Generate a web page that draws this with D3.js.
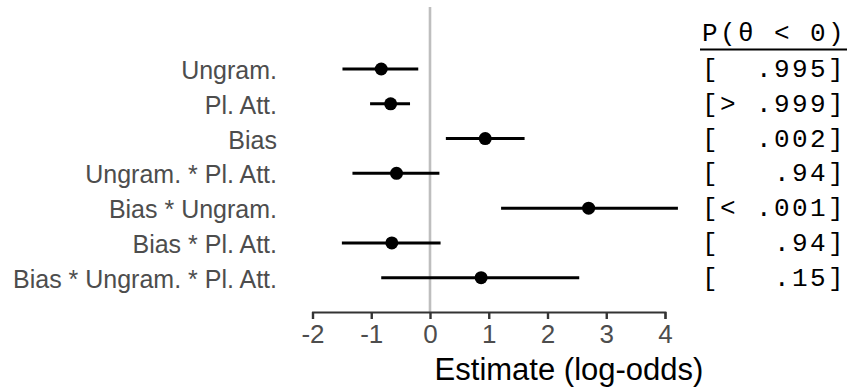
<!DOCTYPE html>
<html>
<head>
<meta charset="utf-8">
<script src="https://cdn.jsdelivr.net/npm/d3@7"></script>
<style>
  body { margin: 0; background: #fff; }
  svg { display: block; }
</style>
</head>
<body>
<svg id="chart"></svg>
<script>
// model terms, top to bottom
var terms = ["Ungram.", "Pl. Att.", "Bias", "Ungram. * Pl. Att.",
  "Bias * Ungram.", "Bias * Pl. Att.", "Bias * Ungram. * Pl. Att."];
var estimates = [-0.83, -0.67, 0.94, -0.57, 2.70, -0.65, 0.87];
var lower = [-1.49, -1.02, 0.27, -1.32, 1.21, -1.50, -0.83];
var upper = [-0.20, -0.34, 1.61, 0.16, 4.22, 0.18, 2.54];
var probs = ["[  .995]", "[> .999]", "[  .002]", "[   .94]", "[< .001]", "[   .94]", "[   .15]"];
var xTicks = [-2, -1, 0, 1, 2, 3, 4];

var width = 863, height = 388;

var svg = d3.select("#chart")
  .attr("width", width)
  .attr("height", height);

var x = d3.scaleLinear().domain([-2, 4]).range([312.5, 665]);
var y = d3.scalePoint().domain(terms).range([69, 277.7]);

// zero reference line
svg.append("line")
  .attr("x1", x(0)).attr("x2", x(0))
  .attr("y1", 7).attr("y2", 312)
  .attr("stroke", "#bebebe")
  .attr("stroke-width", 2.6);

// x axis
var xAxis = svg.append("g")
  .attr("transform", "translate(0,312)")
  .call(d3.axisBottom(x).tickValues(xTicks).tickSizeOuter(0).tickSize(7).tickPadding(6)
    .tickFormat(d3.format("d")));
xAxis.select(".domain").attr("stroke", "#333").attr("stroke-width", 1.8);
xAxis.selectAll(".tick line").attr("stroke", "#333").attr("stroke-width", 2.4);
xAxis.selectAll(".tick text")
  .attr("fill", "#4d4d4d")
  .style("font-family", "Liberation Sans, Arial, sans-serif")
  .style("font-size", "26px")
  .text(function (d) { return d < 0 ? "-" + Math.abs(d) : d; });

svg.append("text")
  .attr("x", 569)
  .attr("y", 380)
  .attr("text-anchor", "middle")
  .attr("fill", "#000")
  .style("font-family", "Liberation Sans, Arial, sans-serif")
  .style("font-size", "31px")
  .text("Estimate (log-odds)");

// term labels
svg.selectAll(".term")
  .data(terms)
  .enter()
  .append("text")
  .attr("class", "term")
  .attr("x", 277)
  .attr("y", function (d) { return y(d) + 10; })
  .attr("text-anchor", "end")
  .attr("fill", "#4d4d4d")
  .style("font-family", "Liberation Sans, Arial, sans-serif")
  .style("font-size", "25px")
  .text(function (d) { return d; });

// intervals
svg.selectAll(".ci")
  .data(terms)
  .enter()
  .append("line")
  .attr("class", "ci")
  .attr("x1", function (d, i) { return x(lower[i]); })
  .attr("x2", function (d, i) { return x(upper[i]); })
  .attr("y1", function (d) { return y(d); })
  .attr("y2", function (d) { return y(d); })
  .attr("stroke", "#000")
  .attr("stroke-width", 3);

// point estimates
svg.selectAll(".est")
  .data(terms)
  .enter()
  .append("circle")
  .attr("class", "est")
  .attr("cx", function (d, i) { return x(estimates[i]); })
  .attr("cy", function (d) { return y(d); })
  .attr("r", 6.5)
  .attr("fill", "#000");

// probability column
var mono = "Liberation Mono, Courier New, monospace";
svg.append("text")
  .attr("x", 702)
  .attr("y", 41)
  .attr("fill", "#000")
  .attr("xml:space", "preserve")
  .style("font-family", mono)
  .style("font-size", "26px")
  .style("letter-spacing", "2.4px")
  .text("P(\u03b8 < 0)");

svg.append("line")
  .attr("x1", 700).attr("x2", 847)
  .attr("y1", 49.5).attr("y2", 49.5)
  .attr("stroke", "#000")
  .attr("stroke-width", 2);

svg.selectAll(".prob")
  .data(probs)
  .enter()
  .append("text")
  .attr("class", "prob")
  .attr("x", 702)
  .attr("y", function (d, i) { return y(terms[i]) + 8; })
  .attr("fill", "#000")
  .attr("xml:space", "preserve")
  .style("white-space", "pre")
  .style("font-family", mono)
  .style("font-size", "26px")
  .style("letter-spacing", "2.4px")
  .text(function (d) { return d; });
</script>
</body>
</html>
